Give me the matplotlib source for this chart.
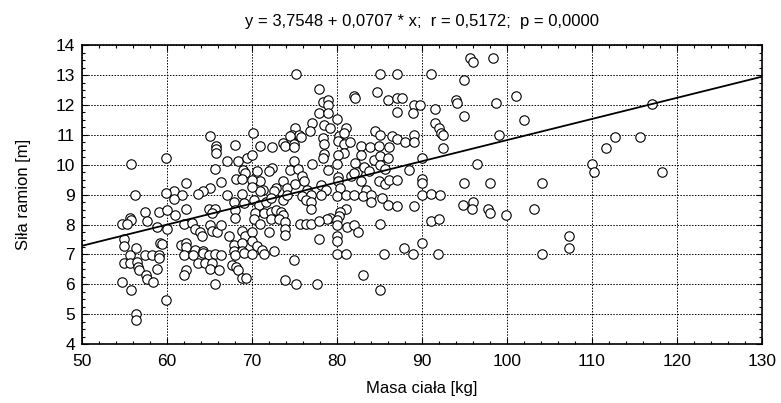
import matplotlib
matplotlib.use("Agg")
import matplotlib.pyplot as plt
from matplotlib.ticker import MultipleLocator

plt.rcParams['font.family'] = ['Liberation Sans', 'DejaVu Sans']

# masa ciala [kg] i sila ramion [m]
masa_kg = [
    65.0, 65.8, 65.8, 65.8, 68.0, 55.8, 59.9, 67.1, 68.3, 69.4,
    65.6, 68.9, 69.2, 68.1, 68.8, 62.2, 66.4, 65.0, 64.2, 63.7,
    60.8, 59.9, 61.8, 56.2, 67.1, 68.8,
    60.8, 67.9, 57.4, 59.0, 60.0, 60.9, 62.2, 55.6, 55.8, 54.7,
    55.3, 57.7, 64.9, 65.7, 65.3, 68.0, 68.0, 69.0, 58.8, 60.0,
    62.0, 62.9, 63.3, 63.9, 64.1, 65.1, 65.3, 65.9, 66.4, 67.3,
    68.8, 69.2, 54.9, 54.9, 56.3, 59.2, 59.4, 61.6, 62.2, 62.2,
    63.3, 64.2, 67.9, 67.9, 68.8, 68.8, 55.7, 57.4, 58.2, 59.0,
    59.0, 62.0, 63.0, 64.2, 64.9, 65.6, 66.4, 68.0, 69.0, 54.9,
    55.7, 56.5, 56.6, 56.7, 63.7, 64.5, 65.3, 65.0, 66.1, 67.7,
    68.1, 68.4, 58.8, 62.2, 62.0, 57.5, 57.7, 58.4, 68.8, 69.3,
    54.7, 55.8, 65.6, 59.9, 56.4, 56.4,
    75.2, 85.1, 77.9, 82.0, 82.1, 84.7, 78.4, 78.9, 78.9, 77.9,
    78.9, 80.0, 77.0, 76.8, 78.5, 79.2, 75.1, 74.7, 75.5, 75.8,
    74.5, 70.1, 78.4, 80.2, 81.0, 80.8, 80.1, 84.5, 85.1, 73.7,
    73.9, 74.9, 74.9, 70.9, 72.3, 78.5, 80.8, 81.5, 80.8, 82.8,
    83.9, 84.9, 82.8, 70.0, 78.5, 78.4, 80.1, 80.0, 82.1, 84.3,
    85.1, 74.9, 77.0, 72.4, 72.0, 70.6, 74.5, 75.4, 75.9, 78.9,
    80.1, 81.6, 82.3, 83.2, 83.8, 85.1, 85.7, 70.9, 71.3, 70.9,
    72.8, 73.7, 74.1, 75.1, 76.1, 76.5, 78.1, 78.7, 80.1, 80.4,
    82.0, 82.8, 83.4, 84.9, 85.7, 70.0, 70.0, 72.6,
    70.2, 70.8, 71.6, 72.2, 73.7, 74.1, 75.9, 76.9, 78.1, 76.3,
    76.9, 76.9, 80.0, 81.0, 82.0, 83.0, 84.0, 84.0, 85.3, 70.4,
    70.2, 71.4, 72.2, 72.8, 73.4, 73.7, 72.2, 73.2, 70.9, 73.9,
    73.9, 73.9, 70.0, 72.0, 70.0, 70.6, 71.2, 72.6, 70.0, 71.4,
    81.0, 80.4, 80.2, 79.2, 78.8, 80.0, 80.0, 75.7, 76.3, 76.9,
    77.9, 81.2, 82.0, 82.5, 85.1, 77.9, 80.0, 80.0, 80.0, 81.0,
    85.5, 74.9, 83.0, 73.9, 75.2, 77.6, 85.1,
    95.6, 96.0, 98.3, 87.1, 91.0, 94.9, 86.0, 87.1, 87.6, 89.1,
    89.8, 94.0, 94.1, 98.7, 101.0, 87.1, 88.9, 91.5, 94.9, 102.0,
    91.5, 92.0, 92.2, 92.5, 86.5, 87.1, 88.0, 89.1, 89.1, 86.1,
    86.0, 92.5, 99.1, 90.0, 88.5, 96.5, 86.1, 87.1, 90.0, 90.0,
    94.9, 98.0, 90.0, 91.0, 92.1,
    86.0, 87.1, 89.1, 94.8, 96.0, 95.9, 97.8, 98.0, 99.9, 91.0,
    92.0, 90.0, 87.9, 88.9, 91.9,
    112.7, 115.7, 111.6, 110.0, 110.2, 104.1, 103.2, 107.3, 107.3, 104.1,
    117.1, 118.2,
]

sila_m = [
    10.96, 10.63, 10.52, 10.40, 10.66, 10.03, 10.24, 10.13, 10.13, 10.24,
    9.85, 9.83, 9.71, 9.51, 9.51, 9.39, 9.41, 9.23, 9.12, 9.02,
    9.12, 9.05, 9.00, 8.98, 9.00, 9.02,
    8.85, 8.77, 8.43, 8.43, 8.48, 8.31, 8.51, 8.23, 8.14, 8.02,
    8.02, 8.12, 8.51, 8.51, 8.37, 8.48, 8.23, 8.71, 7.93, 7.85,
    8.02, 8.05, 7.85, 7.74, 7.62, 7.97, 7.79, 7.74, 8.00, 7.62,
    7.79, 7.62, 7.51, 7.28, 7.22, 7.39, 7.36, 7.33, 7.39, 7.24,
    7.16, 7.10, 7.33, 7.13, 7.39, 7.10, 6.99, 6.99, 6.99, 6.99,
    6.88, 6.99, 6.99, 7.05, 6.99, 7.01, 6.99, 6.99, 7.05, 6.70,
    6.70, 6.76, 6.59, 6.47, 6.70, 6.70, 6.70, 6.51, 6.47, 6.64,
    6.59, 6.47, 6.51, 6.47, 6.30, 6.30, 6.19, 6.09, 6.21, 6.21,
    6.09, 5.82, 6.01, 5.47, 5.01, 4.81,
    13.02, 13.02, 12.53, 12.31, 12.24, 12.43, 12.10, 12.16, 12.01, 11.74,
    11.74, 11.53, 11.41, 11.13, 11.32, 11.24, 11.24, 11.01, 11.01, 10.93,
    10.96, 11.05, 10.90, 10.96, 11.24, 11.05, 10.78, 11.13, 11.01, 10.72,
    10.63, 10.70, 10.59, 10.63, 10.59, 10.70, 10.70, 10.75, 10.40, 10.63,
    10.59, 10.63, 10.32, 10.32, 10.36, 10.21, 10.32, 10.03, 10.06, 10.15,
    10.29, 10.13, 10.03, 9.90, 9.78, 9.78, 9.81, 9.86, 9.63, 9.83,
    9.58, 9.63, 9.75, 9.94, 9.78, 9.98, 9.86, 9.44, 9.17, 9.12,
    9.21, 9.44, 9.23, 9.34, 9.44, 9.17, 9.32, 9.14, 9.46, 9.23,
    9.71, 9.44, 9.17, 9.44, 9.34, 9.48, 9.26, 9.12,
    8.83, 8.66, 8.77, 8.89, 8.83, 9.00, 8.94, 9.00, 9.00, 8.83,
    8.77, 8.51, 8.94, 9.00, 9.00, 8.94, 9.00, 8.77, 8.89, 8.37,
    8.20, 8.37, 8.43, 8.48, 8.43, 8.31, 8.20, 8.20, 8.02, 8.08,
    7.85, 7.66, 7.74, 7.74, 7.45, 7.28, 7.16, 7.10, 7.01, 7.01,
    8.51, 8.43, 8.28, 8.23, 8.20, 8.14, 7.97, 8.02, 8.02, 8.02,
    8.12, 7.93, 8.00, 7.74, 8.02, 7.51, 7.62, 7.45, 7.01, 7.01,
    7.01, 6.82, 6.30, 6.13, 6.01, 6.01, 5.82,
    13.58, 13.43, 13.58, 13.02, 13.02, 12.85, 12.16, 12.22, 12.22, 12.01,
    12.01, 12.16, 12.05, 12.05, 12.31, 11.76, 11.74, 11.85, 11.64, 11.51,
    11.41, 11.24, 11.05, 11.01, 10.96, 10.86, 10.75, 11.01, 10.75, 10.59,
    10.24, 10.55, 11.01, 10.24, 9.83, 10.03, 9.48, 9.48, 9.52, 9.40,
    9.40, 9.40, 8.98, 9.02, 8.98,
    8.66, 8.62, 8.62, 8.66, 8.74, 8.51, 8.51, 8.39, 8.31, 8.12,
    8.20, 7.39, 7.22, 7.01, 7.01,
    10.94, 10.94, 10.55, 10.03, 9.75, 9.40, 8.51, 7.62, 7.20, 7.01,
    12.03, 9.75,
]

# prosta regresji z naglowka wykresu
wyraz_wolny = 3.7548
nachylenie = 0.0707
x_zakres = [50, 130]

fig = plt.figure(figsize=(7.81, 4.03), dpi=100)
ax = fig.add_axes([0.105, 0.146, 0.8707, 0.742])

ax.scatter(masa_kg, sila_m, s=46, facecolors='white', edgecolors='black',
           linewidths=0.8, zorder=3)
ax.plot(x_zakres, [wyraz_wolny + nachylenie * x for x in x_zakres],
        color='black', linewidth=1.3, zorder=4)

ax.set_xlim(50, 130)
ax.set_ylim(4, 14)
ax.xaxis.set_major_locator(MultipleLocator(10))
ax.yaxis.set_major_locator(MultipleLocator(1))
ax.xaxis.set_minor_locator(MultipleLocator(2))
ax.yaxis.set_minor_locator(MultipleLocator(0.25))
ax.tick_params(which='both', direction='in', top=True, right=True,
               labelsize=12.5, width=0.8)
ax.tick_params(which='major', length=4)
ax.tick_params(which='minor', length=2.5)
ax.tick_params(axis='x', pad=7)
ax.tick_params(axis='y', pad=5)
ax.grid(True, which='major', color='black', linestyle=(0, (1.5, 1.5)),
        linewidth=0.7)
for sp in ax.spines.values():
    sp.set_linewidth(1.2)

ax.set_title('y = 3,7548 + 0,0707 * x;  r = 0,5172;  p = 0,0000',
             fontsize=12, pad=13.5)
ax.set_xlabel('Masa ciała [kg]', fontsize=12, labelpad=9)
ax.set_ylabel('Siła ramion [m]', fontsize=12, labelpad=18)

fig.savefig('out.png', dpi=100)
